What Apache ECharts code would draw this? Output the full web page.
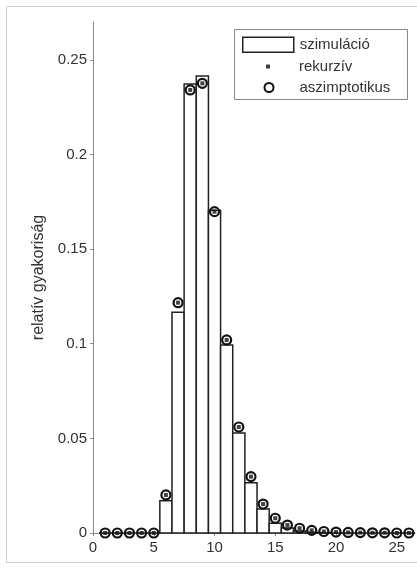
<!DOCTYPE html>
<html>
<head>
<meta charset="utf-8">
<script src="https://cdn.jsdelivr.net/npm/echarts@6/dist/echarts.min.js"></script>
<style>
  html, body { margin: 0; padding: 0; background: #fff; }
  #chart { width: 417px; height: 570px; }
</style>
</head>
<body>
<div id="chart"></div>
<script>
// number of events k = 1..26
const kValues = [1, 2, 3, 4, 5, 6, 7, 8, 9, 10, 11, 12, 13, 14, 15, 16, 17, 18, 19, 20, 21, 22, 23, 24, 25, 26];

// relative frequency from simulation (bars)
const simulation = [0, 0, 0, 0, 0, 0.0171, 0.1166, 0.2372, 0.2415, 0.1705, 0.0993, 0.0529, 0.0266,
  0.0127, 0.0051, 0.0026, 0.0010, 0.0004, 0.0002, 0, 0, 0, 0, 0, 0, 0];

// recursive computation (small squares)
const recursive = [0, 0, 0, 0, 0, 0.0201, 0.1217, 0.2341, 0.2376, 0.1698, 0.1020, 0.0560, 0.0298,
  0.0153, 0.0078, 0.0042, 0.0025, 0.0014, 0.0008, 0.0005, 0.0003, 0.0002, 0.0001, 0.0001, 0, 0];

// asymptotic approximation (open circles)
const asymptotic = [0, 0, 0, 0, 0, 0.0201, 0.1217, 0.2341, 0.2376, 0.1698, 0.1020, 0.0560, 0.0298,
  0.0153, 0.0078, 0.0042, 0.0025, 0.0014, 0.0008, 0.0005, 0.0003, 0.0002, 0.0001, 0.0001, 0, 0];

const xTicks = [0, 5, 10, 15, 20, 25];
const yTicks = [0, 0.05, 0.1, 0.15, 0.2, 0.25];

const FONT = '"Liberation Sans", Arial, sans-serif';
const TEXT = '#333';
const BAR_STYLE = { color: '#fff', borderColor: '#222', borderWidth: 1.5 };

const pairs = (ys) => kValues.map((k, i) => [k, ys[i]]);

// histogram bar: spans [k - 0.5, k + 0.5] on the x scale
function renderBar(params, api) {
  const k = api.value(0);
  const v = api.value(1);
  const topLeft = api.coord([k - 0.5, v]);
  const bottomRight = api.coord([k + 0.5, 0]);
  return {
    type: 'rect',
    shape: {
      x: topLeft[0],
      y: topLeft[1],
      width: bottomRight[0] - topLeft[0],
      height: bottomRight[1] - topLeft[1]
    },
    style: { fill: BAR_STYLE.color, stroke: BAR_STYLE.borderColor, lineWidth: BAR_STYLE.borderWidth }
  };
}

const chart = echarts.init(document.getElementById('chart'));
chart.setOption({
  animation: false,
  backgroundColor: '#fff',
  textStyle: { fontFamily: FONT },
  grid: { left: 93, right: 2, top: 22, bottom: 37 },
  xAxis: {
    type: 'value',
    min: 0,
    max: 26.5,
    splitLine: { show: false },
    axisLine: { onZero: false, lineStyle: { color: '#888', width: 1 } },
    axisTick: { show: true, length: 3, customValues: xTicks, lineStyle: { color: '#888' } },
    axisLabel: { customValues: xTicks, color: TEXT, fontSize: 15, margin: 7, fontFamily: FONT }
  },
  yAxis: {
    type: 'value',
    min: 0,
    max: 0.27,
    splitLine: { show: false },
    axisLine: { show: true, lineStyle: { color: '#888', width: 1 } },
    axisTick: { show: true, length: 3, customValues: yTicks, lineStyle: { color: '#888' } },
    axisLabel: { customValues: yTicks, color: TEXT, fontSize: 15, margin: 6, fontFamily: FONT },
    name: 'relatív gyakoriság',
    nameLocation: 'middle',
    nameRotate: 90,
    nameGap: 42,
    nameTextStyle: { color: TEXT, fontSize: 16, fontFamily: FONT }
  },
  legend: [
    {
      data: [{ name: 'szimuláció', icon: 'rect', itemStyle: BAR_STYLE }],
      left: 242, top: 36.5, padding: 0,
      itemWidth: 51, itemHeight: 15,
      textStyle: { color: TEXT, fontSize: 15, fontFamily: FONT, padding: [0, 0, 0, 1] }
    },
    {
      data: ['rekurzív'],
      left: 266, top: 59, padding: 0,
      itemWidth: 4, itemHeight: 4,
      textStyle: { color: TEXT, fontSize: 15, fontFamily: FONT, padding: [0, 0, 0, 24] }
    },
    {
      data: ['aszimptotikus'],
      left: 263.5, top: 80, padding: 0,
      itemWidth: 9, itemHeight: 9,
      textStyle: { color: TEXT, fontSize: 15, fontFamily: FONT, padding: [0, 0, 0, 21] }
    }
  ],
  graphic: [
    {
      type: 'rect', z: -10, silent: true,
      shape: { x: 6.5, y: 6.5, width: 430, height: 556 },
      style: { fill: 'none', stroke: '#ccc', lineWidth: 1 }
    },
    {
      type: 'rect', z: 0, silent: true,
      shape: { x: 234.5, y: 29.5, width: 173, height: 70 },
      style: { fill: '#fff', stroke: '#888', lineWidth: 1 }
    }
  ],
  series: [
    {
      name: 'szimuláció',
      type: 'custom',
      renderItem: renderBar,
      encode: { x: 0, y: 1 },
      data: pairs(simulation),
      itemStyle: BAR_STYLE,
      z: 2
    },
    {
      name: 'aszimptotikus',
      type: 'scatter',
      symbol: 'circle',
      symbolSize: 9,
      data: pairs(asymptotic),
      itemStyle: { color: 'rgba(0,0,0,0)', borderColor: '#111', borderWidth: 2.2, opacity: 1 },
      z: 3
    },
    {
      name: 'rekurzív',
      type: 'scatter',
      symbol: 'rect',
      symbolSize: 4,
      data: pairs(recursive),
      itemStyle: { color: '#111' },
      z: 4
    }
  ]
});
</script>
</body>
</html>
